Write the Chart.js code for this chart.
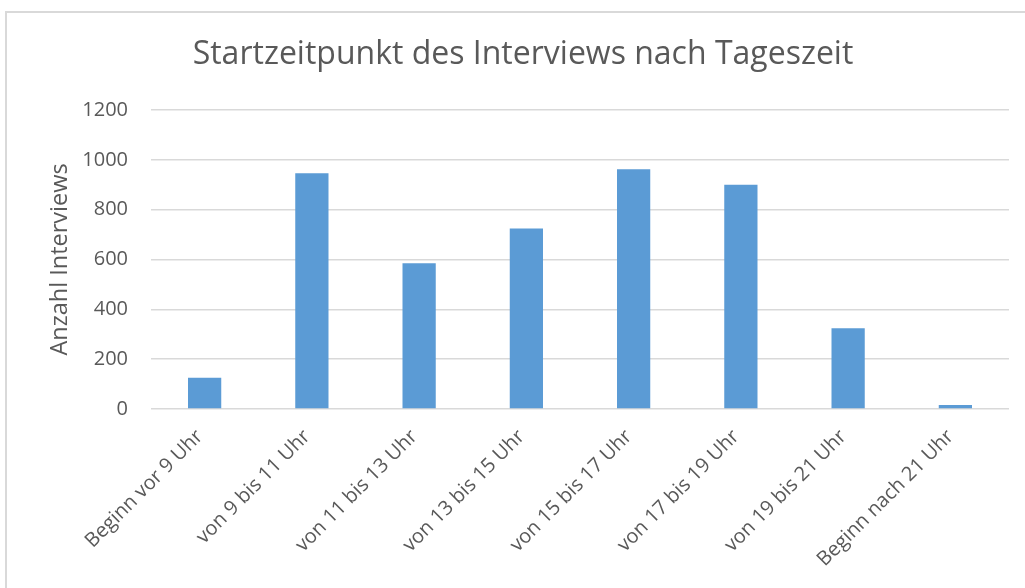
<!DOCTYPE html>
<html>
<head>
<meta charset="utf-8">
<script src="https://cdn.jsdelivr.net/npm/chart.js@4"></script>
<style>
  html, body { margin: 0; padding: 0; background: #fff; }
  #wrap { position: relative; width: 1025px; height: 588px; overflow: hidden; }
  #frame {
    position: absolute; left: 5px; top: 11px; width: 1100px; height: 700px;
    border: 2px solid #d9d9d9; box-sizing: border-box;
  }
  canvas { position: absolute; left: 0; top: 0; }
</style>
</head>
<body>
<div id="wrap">
  <div id="frame"></div>
  <canvas id="chart" width="1025" height="588"></canvas>
</div>
<script>
// Kategorien (Tageszeit) und Anzahl der Interviews
const categories = [
  'Beginn vor 9 Uhr',
  'von 9 bis 11 Uhr',
  'von 11 bis 13 Uhr',
  'von 13 bis 15 Uhr',
  'von 15 bis 17 Uhr',
  'von 17 bis 19 Uhr',
  'von 19 bis 21 Uhr',
  'Beginn nach 21 Uhr'
];
const interviews = [125, 946, 585, 724, 962, 900, 324, 16];
const yTicks = [0, 200, 400, 600, 800, 1000, 1200];

const textColor = '#595959';
const gridColor = '#d9d9d9';
const fontFamily = '"Open Sans", sans-serif';

Chart.defaults.font.family = fontFamily;
Chart.defaults.color = textColor;

new Chart(document.getElementById('chart').getContext('2d'), {
  type: 'bar',
  data: {
    labels: categories,
    datasets: [{
      label: 'Anzahl Interviews',
      data: interviews,
      backgroundColor: '#5b9bd5',
      barPercentage: 0.31,
      categoryPercentage: 1.0
    }]
  },
  options: {
    responsive: false,
    animation: false,
    // links etwas Abstand, damit der Titel wie im Original zentriert ist
    layout: { padding: { top: 0, left: 37, right: 16, bottom: 0 } },
    plugins: {
      legend: { display: false },
      tooltip: { enabled: false },
      title: {
        display: true,
        text: 'Startzeitpunkt des Interviews nach Tageszeit',
        color: textColor,
        font: { size: 32, weight: 'normal' },
        padding: { top: 36, bottom: 35.6 }
      }
    },
    scales: {
      x: {
        grid: { display: false },
        border: { display: false },
        ticks: {
          color: textColor,
          font: { size: 20 },
          maxRotation: 45,
          minRotation: 45,
          padding: 8,
          labelOffset: -5,
          autoSkip: false
        },
        afterFit: (scale) => { scale.height = 179; }
      },
      y: {
        min: 0,
        max: 1200,
        afterBuildTicks: (scale) => {
          scale.ticks = yTicks.map((v) => ({ value: v }));
        },
        grid: { color: gridColor, lineWidth: 1.5, drawTicks: false },
        border: { display: false },
        ticks: {
          color: textColor,
          font: { size: 20 },
          padding: 23,
          callback: (v) => String(v)
        },
        title: {
          display: true,
          text: 'Anzahl Interviews',
          color: textColor,
          font: { size: 23.5 },
          padding: { top: 9, bottom: 0 }
        },
        afterFit: (scale) => { scale.width = 114; }
      }
    }
  }
});
</script>
</body>
</html>
